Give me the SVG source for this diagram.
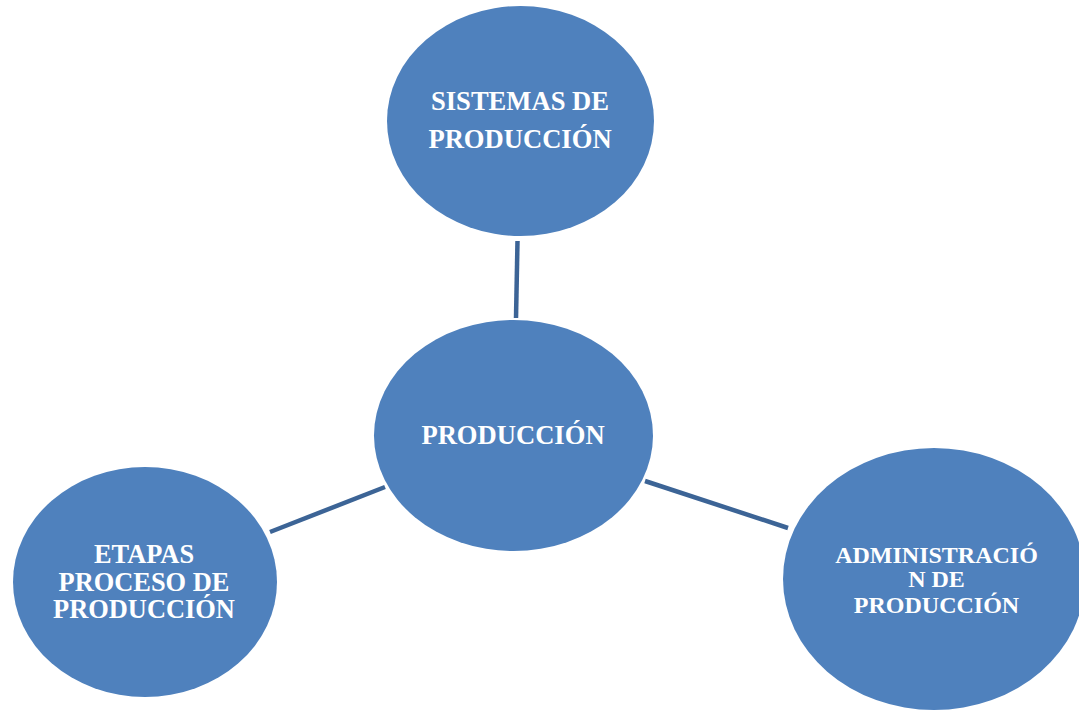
<svg xmlns="http://www.w3.org/2000/svg" width="1079" height="711" viewBox="0 0 1079 711">
  <style>
    .node { fill: #4f81bd; }
    .label { font-family: "Liberation Serif", "Times New Roman", serif; font-weight: bold; fill: #ffffff; text-anchor: middle; }
    .conn { stroke: #3c6496; stroke-width: 4.5; stroke-linecap: butt; fill: none; }
  </style>
  <rect width="1079" height="711" fill="#ffffff"/>

  <!-- connectors between the hub and the surrounding nodes -->
  <g id="connectors">
    <line class="conn" x1="517.5" y1="241" x2="516" y2="318"/>
    <line class="conn" x1="270" y1="532" x2="385" y2="487"/>
    <line class="conn" x1="645" y1="481" x2="788" y2="528"/>
  </g>

  <g id="node-sistemas">
    <ellipse class="node" cx="520.5" cy="121" rx="133.5" ry="115"/>
    <text class="label" x="520" y="110" font-size="26.6">SISTEMAS DE</text>
    <text class="label" x="520" y="148" font-size="26.6">PRODUCCIÓN</text>
  </g>

  <g id="node-produccion">
    <ellipse class="node" cx="513.5" cy="435.5" rx="139.5" ry="115.5"/>
    <text class="label" x="513" y="444" font-size="26.6">PRODUCCIÓN</text>
  </g>

  <g id="node-etapas">
    <ellipse class="node" cx="145" cy="582" rx="132" ry="115"/>
    <text class="label" x="144" y="563" font-size="26.4">ETAPAS</text>
    <text class="label" x="144" y="591" font-size="26.4">PROCESO DE</text>
    <text class="label" x="144" y="618" font-size="26.4">PRODUCCIÓN</text>
  </g>

  <g id="node-administracion">
    <ellipse class="node" cx="934" cy="579" rx="151" ry="131"/>
    <text class="label" x="936.5" y="563" font-size="24">ADMINISTRACIÓ</text>
    <text class="label" x="936.5" y="587" font-size="24">N DE</text>
    <text class="label" x="936.5" y="613" font-size="24">PRODUCCIÓN</text>
  </g>
</svg>
